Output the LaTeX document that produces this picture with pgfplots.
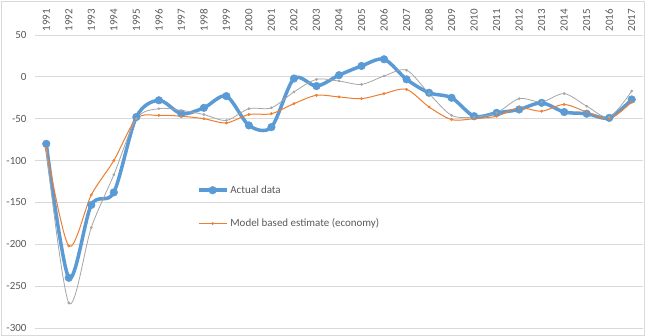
\documentclass[border=0pt]{standalone}
\usepackage{fontspec}
\setmainfont{Carlito}
\usepackage{pgfplots}
\pgfplotsset{compat=1.18}
\definecolor{cblue}{RGB}{91,155,213}
\definecolor{corange}{RGB}{237,125,49}
\definecolor{cgray}{RGB}{165,165,165}
\definecolor{cgrid}{RGB}{217,217,217}
\definecolor{ctext}{RGB}{89,89,89}
\begin{document}
\begin{tikzpicture}
\useasboundingbox (0,0) rectangle (648bp,336bp);
\draw[cgrid, line width=0.75bp] (1bp,1bp) rectangle (644bp,335bp);
\begin{axis}[
  at={(35bp,8bp)}, anchor=south west,
  scale only axis, width=608bp, height=293bp,
  xmin=1990.5, xmax=2017.5, ymin=-300, ymax=50,
  ytick={-300,-250,...,50},
  xtick={1991,...,2017},
  axis line style={draw=none},
  major tick length=0pt,
  ymajorgrids, grid style={cgrid, line width=0.75bp},
  xticklabel pos=upper,
  /pgf/number format/1000 sep={},
  /pgf/number format/assume math mode=true,
  xticklabel style={rotate=90, anchor=west, font=\fontsize{11}{11}\selectfont, text=ctext},
  yticklabel style={font=\fontsize{11}{11}\selectfont, text=ctext, xshift=-5bp},
  legend style={at={(0.261,0.50)}, anchor=north west, draw=none, fill=none,
    font=\fontsize{11}{13}\selectfont, row sep=20bp},
  legend cell align=left,
  legend image code/.code={\draw[mark repeat=2,mark phase=2,#1] plot coordinates {(0bp,0bp) (14bp,0bp) (28bp,0bp)};},
]
\addplot[cblue, line width=3.5bp, smooth, mark=*, mark size=3.8bp, mark options={fill=cblue, draw=cblue, line width=0.5bp}] coordinates {
(1991,-80) (1992,-240) (1993,-153) (1994,-138) (1995,-48) (1996,-28) (1997,-44)
(1998,-37) (1999,-23) (2000,-58) (2001,-60) (2002,-2) (2003,-11) (2004,2)
(2005,13) (2006,21) (2007,-3) (2008,-19) (2009,-25) (2010,-47) (2011,-43)
(2012,-39) (2013,-31) (2014,-42) (2015,-44) (2016,-49) (2017,-27)};
\addlegendentry{\textcolor{ctext}{Actual data}}
\addplot[corange, line width=1bp, smooth, mark=*, mark size=1.3bp, mark options={fill=corange, draw=corange, line width=0.3bp}] coordinates {
(1991,-85) (1992,-202) (1993,-141) (1994,-100) (1995,-50) (1996,-46) (1997,-47)
(1998,-50) (1999,-55) (2000,-45) (2001,-44) (2002,-32) (2003,-22) (2004,-24)
(2005,-26) (2006,-20) (2007,-15) (2008,-36) (2009,-51) (2010,-50) (2011,-47)
(2012,-37) (2013,-41) (2014,-33) (2015,-42) (2016,-50) (2017,-30)};
\addlegendentry{\textcolor{ctext}{Model based estimate (economy)}}
\addplot[cgray, line width=0.8bp, smooth, mark=*, mark size=1.2bp, mark options={fill=cgray, draw=cgray, line width=0.3bp}, forget plot] coordinates {
(1991,-88) (1992,-270) (1993,-180) (1994,-117) (1995,-50) (1996,-38) (1997,-40)
(1998,-45) (1999,-52) (2000,-38) (2001,-37) (2002,-18) (2003,-3) (2004,-5)
(2005,-9) (2006,1) (2007,8) (2008,-20) (2009,-46) (2010,-48) (2011,-43)
(2012,-26) (2013,-30) (2014,-20) (2015,-35) (2016,-48) (2017,-17)};
\end{axis}
\end{tikzpicture}
\end{document}
